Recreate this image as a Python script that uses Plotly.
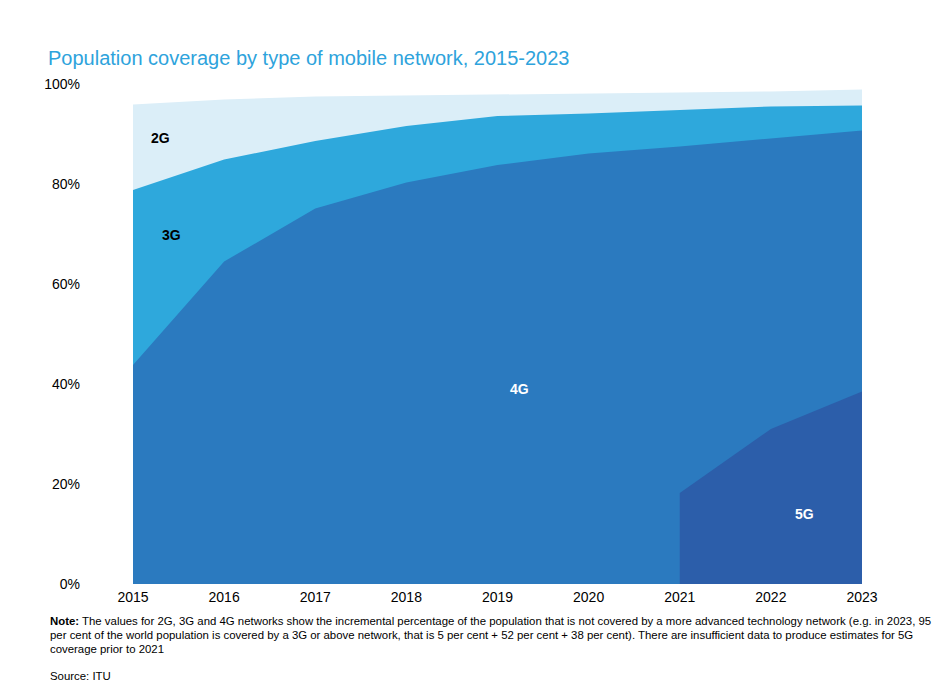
import plotly.graph_objects as go

years = [2015, 2016, 2017, 2018, 2019, 2020, 2021, 2022, 2023]
# incremental coverage (%)
cov_2g = [17.1, 12.0, 8.9, 6.1, 4.3, 4.0, 3.5, 3.0, 3.2]
cov_3g = [35.0, 20.4, 13.5, 11.3, 9.8, 8.0, 7.3, 6.4, 5.0]
cov_4g = [43.8, 64.5, 75.1, 80.3, 83.8, 86.1, 69.3, 58.1, 52.2]
years_5g = [2021, 2022, 2023]
cov_5g = [18.2, 31.0, 38.5]
y_ticks = [0, 20, 40, 60, 80, 100]
y_ticktext = ["0%", "20%", "40%", "60%", "80%", "100%"]

c5 = {y: v for y, v in zip(years_5g, cov_5g)}
top_4g = [c5.get(y, 0) + v for y, v in zip(years, cov_4g)]
top_3g = [a + b for a, b in zip(top_4g, cov_3g)]
top_2g = [a + b for a, b in zip(top_3g, cov_2g)]

fig = go.Figure()
for name, ys, xs, col in [
    ("2G", top_2g, years, "#dbeef8"),
    ("3G", top_3g, years, "#2ea8dc"),
    ("4G", top_4g, years, "#2b7abf"),
    ("5G", cov_5g, years_5g, "#2c5eaa"),
]:
    fig.add_trace(go.Scatter(x=xs, y=ys, name=name, mode="lines", fill="tozeroy",
                             fillcolor=col, line=dict(width=0, color=col),
                             hoverinfo="skip"))

def lab(x, y, t, c):
    fig.add_annotation(x=x, y=y, text=f"<b>{t}</b>", showarrow=False,
                       font=dict(family="Liberation Sans, Arial", size=14, color=c))

lab(2015.3, 89.2, "2G", "black")
lab(2015.42, 69.8, "3G", "black")
lab(2019.24, 39, "4G", "white")
lab(2022.37, 14, "5G", "white")

note_lines = [
    "<b>Note:</b> The values for 2G, 3G and 4G networks show the incremental percentage of the population that is not covered by a more advanced technology network (e.g. in 2023, 95",
    "per cent of the world population is covered by a 3G or above network, that is 5 per cent + 52 per cent + 38 per cent). There are insufficient data to produce estimates for 5G",
    "coverage prior to 2021",
]
for i, line in enumerate(note_lines):
    fig.add_annotation(xref="paper", yref="paper", x=-85/729, y=-(613 + 14 * i - 584)/500,
                       xanchor="left", yanchor="top", text=line, align="left", showarrow=False,
                       font=dict(family="Liberation Sans, Arial", size=11.4, color="black"))
fig.add_annotation(xref="paper", yref="paper", x=-85/729, y=-(668-584)/500, xanchor="left", yanchor="top",
                   text="Source: ITU", align="left", showarrow=False,
                   font=dict(family="Liberation Sans, Arial", size=11.4, color="black"))

fig.update_layout(
    width=949, height=699,
    margin=dict(l=125, r=95, t=76, b=123),
    paper_bgcolor="white", plot_bgcolor="white",
    showlegend=False,
    font=dict(family="Liberation Sans, Arial", size=14, color="black"),
    title=dict(text="Population coverage by type of mobile network, 2015-2023",
               x=40/949, xanchor="left", y=1 - 50/699, yanchor="middle",
               font=dict(size=20, color="#2ea3dc")),
    xaxis=dict(range=[2015, 2023], tickmode="array", tickvals=years,
               showgrid=False, zeroline=False, showline=False, ticks="",
               ticklabelstandoff=3, tickfont=dict(size=14)),
    yaxis=dict(range=[0, 100], tickmode="array", tickvals=y_ticks, ticktext=y_ticktext,
               showgrid=False, zeroline=False, showline=False, ticks="",
               ticklabelstandoff=52, tickfont=dict(size=14)),
)
fig.write_html("out.html")
